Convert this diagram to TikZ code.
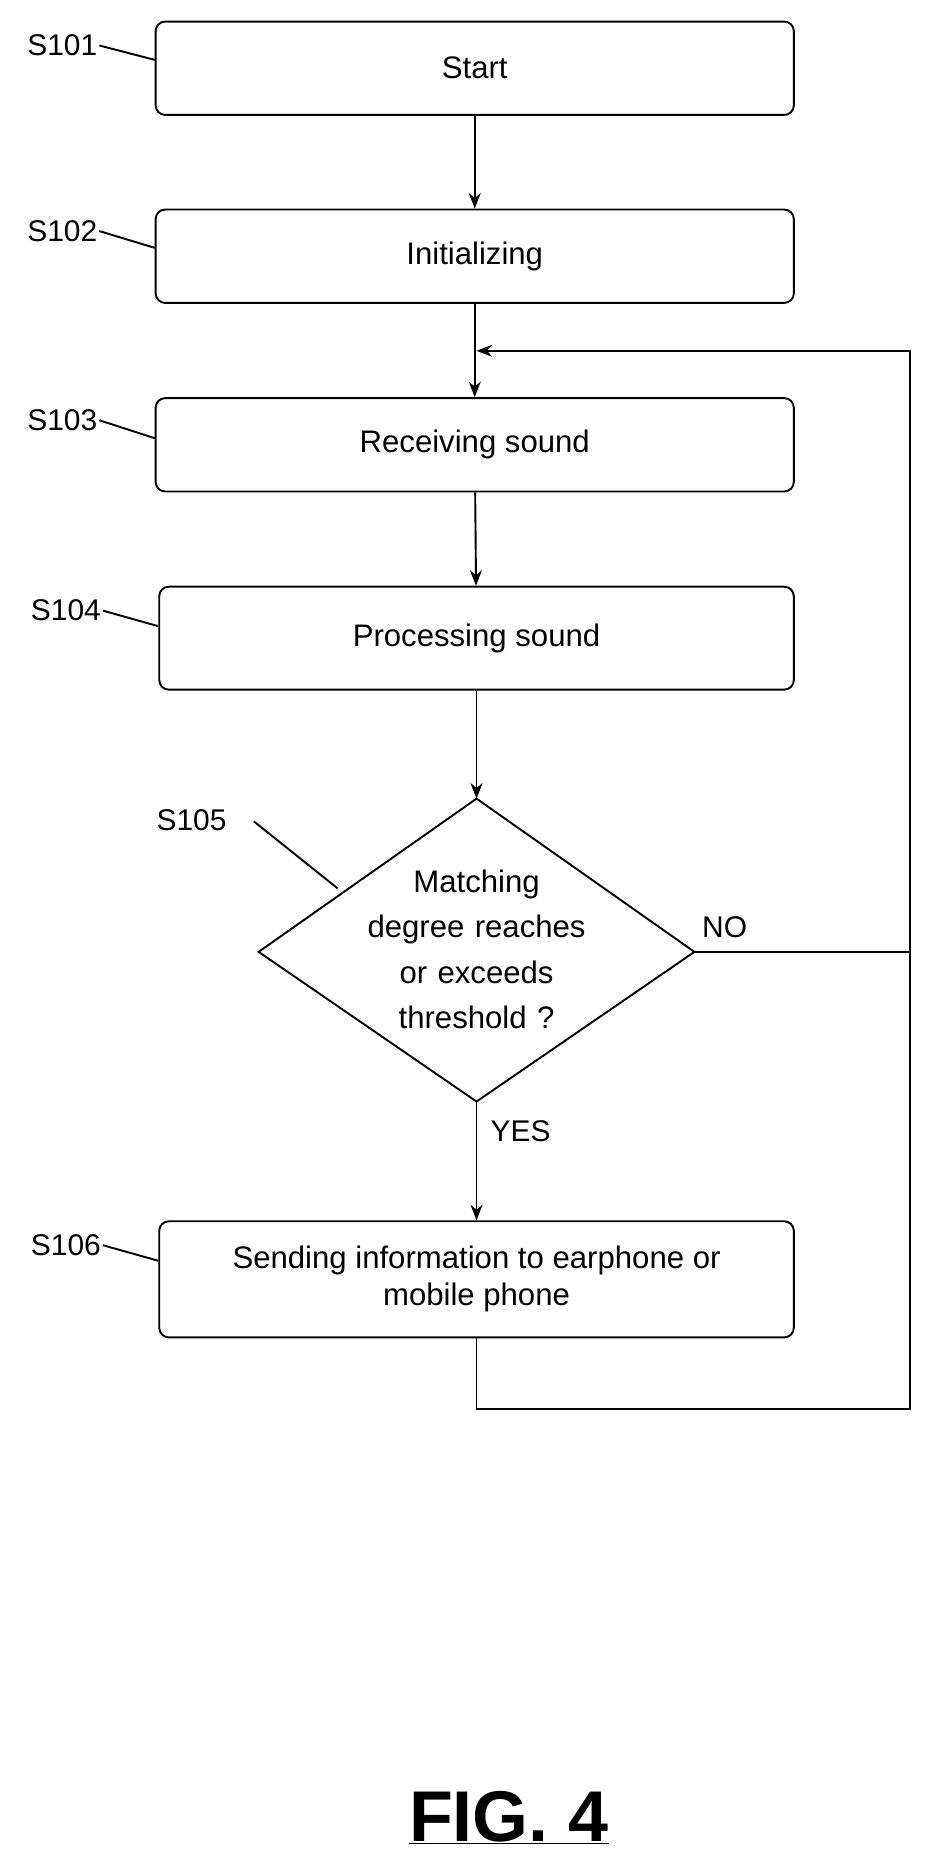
\documentclass[tikz,border=0pt]{standalone}
\usepackage{fontspec}
\setmainfont{Liberation Sans}
\usetikzlibrary{arrows.meta}
\begin{document}
\begin{tikzpicture}[x=1pt,y=1pt,yscale=-1,line width=1.6pt,
  stepbox/.style={draw,rounded corners=8pt,minimum width=533,minimum height=78,font=\fontsize{26}{31}\selectfont,align=center,inner sep=0},
  lbl/.style={font=\fontsize{25}{29}\selectfont,inner sep=1pt},
  flow/.style={-{Stealth[length=13pt,width=10pt]}}]
  \useasboundingbox (0,0) rectangle (776,1561);

  %steps
  \node[stepbox] (start) at (396.5,57) {Start};
  \node[stepbox] (init) at (396.5,214) {Initializing};
  \node[stepbox] (recv) at (396.5,371.5) {Receiving sound};
  \node[stepbox,minimum width=530,minimum height=86] (proc) at (398,533) {Processing sound};
  %decision
  \coordinate (dtop) at (398,667);
  \coordinate (dleft) at (216,795);
  \coordinate (dright) at (580,795);
  \coordinate (dbot) at (398,920);
  \draw (dtop) -- (dright) -- (dbot) -- (dleft) -- cycle;
  \node[text width=200,align=center,inner sep=0,font=\fontsize{26}{38}\selectfont] (dec) at (398,793) {Matching\\degree reaches\\or exceeds\\threshold ?};
  \node[stepbox,minimum width=530,minimum height=97] (send) at (398,1068.5) {Sending information to earphone or\\mobile phone};

  %connectors
  \draw[flow] (start) -- (init);
  \draw[flow] (init) -- (recv);
  \draw[flow] (recv) -- (proc);
  \draw[flow] (proc) -- (dtop);
  \draw[flow] (dbot) -- node[lbl,right=10pt,pos=0.25]{YES} (send);
  \coordinate (loopin) at (398,293);
  \coordinate (cno) at (760,795);
  \draw (dright) -- node[lbl,above=10pt,pos=0.14]{NO} (cno);
  \draw[flow] (send.south) -- (398,1177) -- (760,1177) -- (cno) -- (760,293) -- (loopin);

  %step labels
  \node[lbl] (l101) at (52,38) {S101};
  \node[lbl] (l102) at (52,193) {S102};
  \node[lbl] (l103) at (52,351) {S103};
  \node[lbl] (l104) at (55,510) {S104};
  \node[lbl] (l105) at (160,685) {S105};
  \node[lbl] (l106) at (55,1040) {S106};
  \draw (l101.east) -- (start.west |- 0,50);
  \draw (l102.east) -- (init.west |- 0,207);
  \draw (l103.east) -- (recv.west |- 0,366);
  \draw (l104.east) -- (proc.west |- 0,523);
  \coordinate (c105) at (282,742);
  \draw (212,686) -- (c105);
  \draw (l106.east) -- (send.west |- 0,1053);

  %caption
  \node[font=\bfseries\fontsize{60}{66}\selectfont] (fig) at (425,1518) {\underline{FIG. 4}};
\end{tikzpicture}
\end{document}
